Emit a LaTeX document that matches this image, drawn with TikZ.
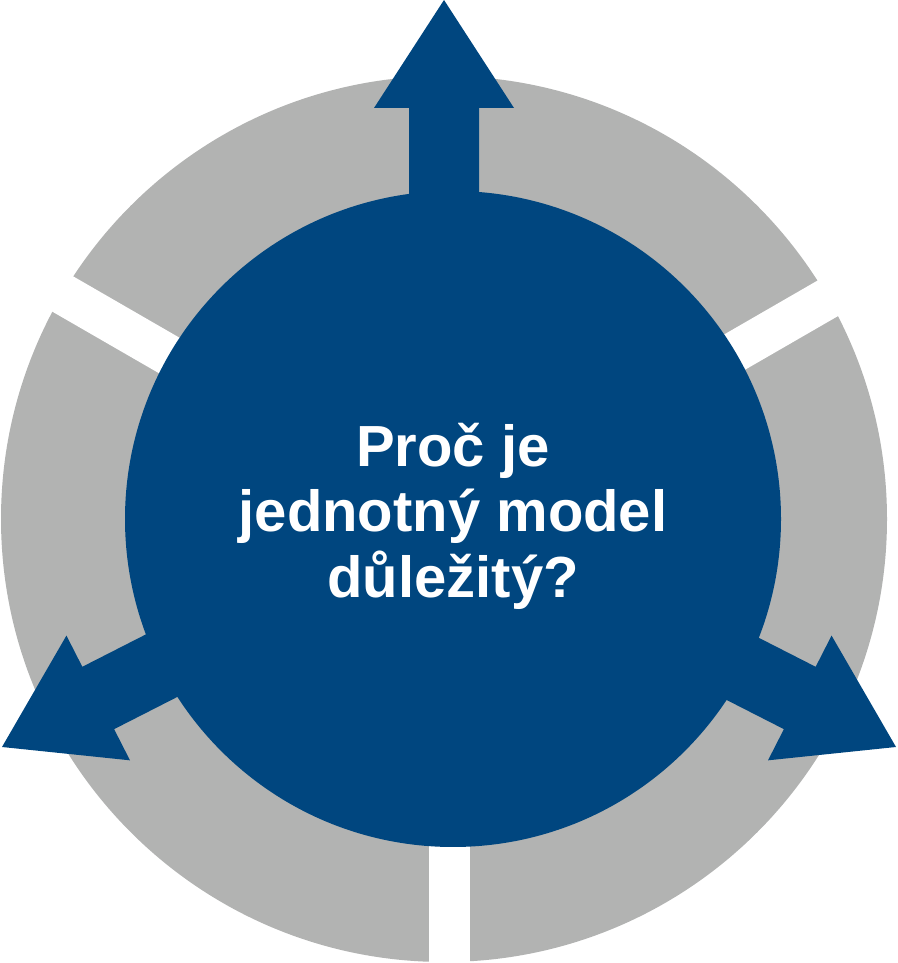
\documentclass[tikz,border=0pt]{standalone}
\usepackage{fontspec}
\setmainfont{Liberation Sans}
\definecolor{ringgray}{HTML}{B2B3B2}
\definecolor{modelblue}{HTML}{00467F}

\begin{document}
\begin{tikzpicture}[x=1pt, y=1pt,
 ring/.style={fill=ringgray},
 hub/.style={fill=modelblue},
 gap/.style={draw=white, line width=41pt},
 bigarrow/.style={fill=modelblue}
]
\useasboundingbox (0,0) rectangle (897,963);

\coordinate (c) at (449,446);

% gray ring, cut by three white gaps
\fill[ring] (444,444) circle (443);
\foreach \a in {30,150,270}
 \draw[gap] (c) -- ++(\a:500);

% the three arrows: tip x / tip y / direction
\foreach \tx/\ty/\ang in {444/963/90, 2/216/207, 896/216/333} {
 \fill[bigarrow, shift={(\tx,\ty)}, rotate=\ang]
 (0,0) -- (-108,70) -- (-108,35) -- (-420,35)
 -- (-420,-35) -- (-108,-35) -- (-108,-70) -- cycle;
}

% blue hub with the question
\fill[hub] (453,444) circle (328);
\node[font=\bfseries\fontsize{58}{65.5}\selectfont, text=white, align=center]
 (question) at (453,447) {Proč je\\jednotný model\\důležitý?};

\end{tikzpicture}
\end{document}
